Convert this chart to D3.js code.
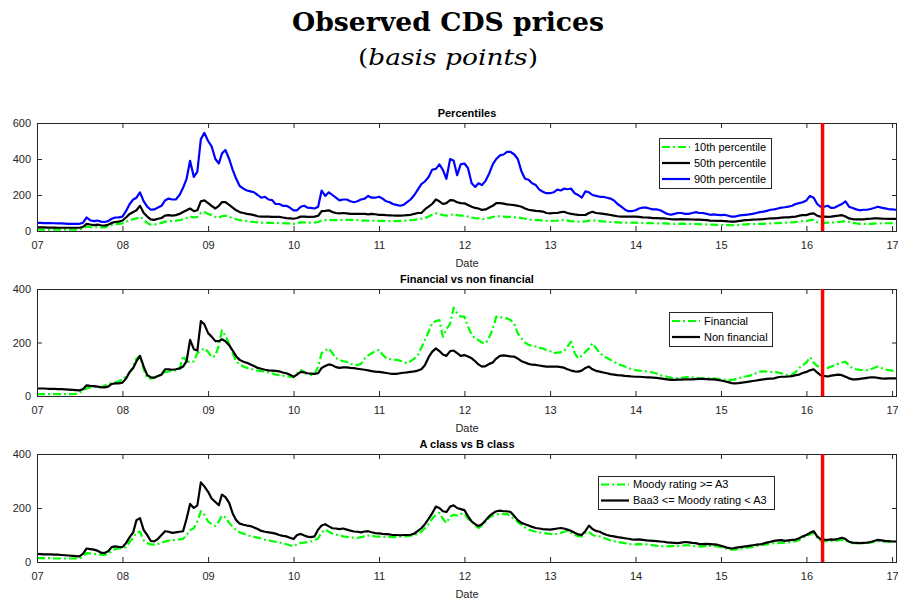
<!DOCTYPE html>
<html><head><meta charset="utf-8">
<script src="https://cdn.jsdelivr.net/npm/d3@7"></script>
<style>body{margin:0;background:#fff} svg{display:block;background:#fff}</style>
</head><body>
<svg id="chart" width="898" height="601"></svg>
<script>
// ---- Data (semi-monthly readings: 1st and 16th of each month, Jan 2007 .. Feb 2017) ----
const yearLabels = ["07","08","09","10","11","12","13","14","15","16","17"];
const yearValues = [2007,2008,2009,2010,2011,2012,2013,2014,2015,2016,2017];

const p90 = [
 45,45,44,44,44,43,42,42,41,40,40,40,40,45,75,60,55,58,52,50,55,68,75,76,
 80,110,150,175,185,215,165,135,118,120,130,140,170,180,175,175,200,240,290,390,300,330,510,545,
 500,470,400,375,430,450,400,340,290,250,235,225,220,215,200,185,190,175,172,150,150,140,140,130,
 115,115,135,140,130,128,125,135,225,195,215,200,185,170,175,175,165,160,165,175,180,195,185,185,
 190,180,165,160,150,145,140,145,160,175,200,230,260,275,300,340,345,370,340,290,400,390,310,370,
 375,350,265,245,265,255,280,320,370,400,420,425,440,440,425,400,330,290,285,265,255,230,218,210,
 210,215,230,225,235,232,235,210,200,185,220,215,200,195,190,190,185,180,170,150,135,120,110,110,
 115,125,130,130,125,120,120,115,105,95,90,95,100,100,95,95,100,105,100,100,95,90,92,90,
 88,90,85,80,80,85,88,90,92,95,100,105,108,112,118,120,125,130,132,135,140,150,155,160,
 170,195,185,150,135,135,140,128,130,140,150,165,135,128,120,115,118,118,122,128,135,130,126,122,120,118,118
];
const p50 = [
 20,20,20,19,19,19,18,18,18,18,18,18,18,22,40,36,33,35,32,30,35,45,50,52,
 58,75,95,105,115,140,100,80,65,62,68,72,85,88,85,88,95,105,115,125,110,115,165,170,
 155,140,125,140,160,160,145,130,115,105,100,95,92,88,82,80,80,80,78,78,78,75,72,70,
 68,72,80,80,78,78,80,85,110,112,115,105,100,98,100,98,95,95,95,95,95,92,95,93,
 90,90,88,87,86,85,85,86,88,90,95,100,100,120,135,150,175,165,150,155,172,170,160,155,
 154,145,135,128,125,117,120,130,140,155,155,152,148,146,144,140,135,125,118,115,112,110,108,100,
 98,100,100,105,107,100,95,92,90,89,89,100,107,100,98,95,92,89,85,82,80,80,80,80,
 80,78,76,75,74,72,72,70,70,68,66,65,65,66,65,65,64,63,63,62,60,58,57,56,
 57,55,53,52,52,55,58,60,61,63,64,65,66,68,70,70,72,74,76,76,78,80,85,88,
 88,95,98,85,80,80,78,80,83,85,88,80,70,66,65,65,65,67,68,70,70,69,68,67,67,67,67
];
const p10 = [
 8,8,8,8,8,8,8,8,8,8,8,8,9,12,25,22,20,22,20,20,25,33,38,40,
 42,50,60,65,70,80,62,45,35,35,40,45,52,55,55,57,60,65,72,80,75,78,100,105,
 95,88,78,75,82,85,78,72,65,60,57,55,52,50,48,46,46,45,45,45,44,43,42,42,
 40,42,48,48,46,46,47,50,58,60,62,60,60,60,62,62,62,60,60,58,58,57,58,57,
 56,56,55,55,55,55,56,57,58,60,62,65,68,72,80,90,98,95,88,85,90,92,88,85,
 85,80,75,72,70,66,68,72,78,82,82,80,78,78,77,75,72,68,65,62,60,60,58,57,
 56,57,58,60,62,58,55,53,52,52,53,58,60,57,55,53,52,50,49,48,47,47,46,46,
 46,45,45,44,44,43,43,42,42,41,40,40,40,41,40,40,40,39,38,37,36,35,35,34,
 34,33,33,32,32,33,35,37,38,38,39,40,40,41,42,43,44,45,46,47,48,50,52,55,
 55,60,62,50,45,45,46,46,48,50,52,55,50,45,42,40,40,40,40,41,42,43,43,43,43,42,42
];
const financial = [
 7,7,7,7,7,7,7,7,7,7,7,8,12,22,28,32,35,33,32,38,45,48,50,55,
 62,72,88,110,140,150,100,66,65,70,75,80,90,92,95,96,100,150,130,125,130,160,170,178,
 165,145,150,190,245,225,195,160,130,118,110,105,102,98,95,93,91,88,85,80,78,76,74,72,
 70,85,97,90,82,78,80,110,160,170,178,160,141,135,130,128,120,116,116,120,140,152,160,168,
 172,155,141,138,137,135,132,128,122,130,140,153,180,209,240,272,280,284,222,250,270,330,310,297,
 297,260,228,215,209,200,197,220,250,297,295,292,290,284,270,234,215,200,191,188,185,180,178,172,
 168,160,162,164,166,185,203,160,141,150,165,178,197,180,160,150,142,135,128,120,115,110,105,100,
 97,95,93,92,91,88,84,78,75,72,68,66,66,68,70,72,70,68,66,66,66,66,66,64,
 62,61,60,60,62,66,70,73,75,80,86,91,92,91,90,91,88,85,80,78,80,90,105,115,
 125,145,125,112,108,103,105,110,115,120,125,128,115,103,100,98,97,97,100,105,110,105,100,97,95,93,91
];
const nonFinancial = [
 28,28,28,27,27,27,26,26,25,24,23,22,21,25,40,38,37,35,33,32,35,45,47,47,
 50,65,90,105,130,150,110,78,70,68,75,80,100,100,98,100,103,110,130,210,175,170,280,268,
 235,222,205,205,212,205,190,170,148,135,128,124,118,112,105,102,98,96,95,94,92,88,85,80,
 72,80,90,88,85,84,83,85,105,112,118,115,108,105,107,107,105,104,102,100,98,96,93,91,
 90,88,86,84,83,83,85,87,88,90,92,95,100,115,145,165,178,168,155,150,168,170,160,150,
 153,148,141,130,118,110,112,120,125,140,150,152,150,148,147,140,130,125,120,117,116,114,112,110,
 110,110,110,108,106,100,95,92,91,95,105,110,100,94,91,88,85,82,80,78,77,75,74,73,
 72,72,71,70,70,69,68,66,64,62,60,60,61,61,62,62,62,63,64,64,63,62,62,60,
 58,55,52,48,47,48,50,52,54,56,58,60,62,64,65,66,70,72,72,73,74,78,80,86,
 90,96,100,88,78,75,73,76,78,80,78,72,66,62,62,64,66,68,70,70,68,66,65,66,66,66,66
];
const ratingA3 = [
 14,14,14,14,14,13,13,13,13,13,13,13,13,20,33,32,30,29,27,26,30,40,48,50,
 52,55,75,90,110,112,80,70,65,64,67,72,76,79,80,82,84,86,100,118,125,150,188,175,
 150,140,133,150,172,165,145,130,118,110,105,100,96,93,90,87,83,80,77,75,72,70,66,62,
 58,65,71,72,74,76,80,88,110,120,112,105,102,98,95,93,91,90,89,92,95,98,97,95,
 94,93,93,93,92,93,94,95,96,98,100,104,112,125,140,160,175,182,160,145,168,175,172,178,
 180,160,150,135,126,135,150,165,172,176,178,177,178,170,160,148,138,128,120,116,112,110,108,106,
 104,102,104,108,112,114,108,100,96,95,108,112,100,96,95,90,85,80,77,74,72,70,67,65,
 65,66,65,65,64,62,60,59,58,58,59,60,59,60,62,62,60,58,57,58,59,60,59,58,
 55,52,48,46,46,48,50,52,54,56,60,62,63,65,68,70,70,71,72,73,75,77,82,90,
 95,102,108,90,80,77,77,78,78,80,83,80,72,70,70,69,70,71,72,75,77,77,75,75,76,76,76
];
const ratingBaa3 = [
 30,29,28,28,28,27,27,26,25,24,23,22,21,30,50,48,46,42,35,33,40,55,58,56,
 55,70,92,110,155,162,118,100,78,76,86,100,114,112,108,110,112,114,160,215,200,210,295,280,
 260,235,222,210,250,240,219,180,155,142,138,135,133,128,122,115,112,110,108,105,100,97,95,90,
 85,100,104,98,94,92,95,120,135,140,132,125,124,122,124,120,116,113,112,110,113,114,110,107,
 106,104,103,102,100,100,99,100,100,101,105,115,125,140,160,180,205,200,188,185,205,210,200,196,
 192,170,150,140,133,140,155,170,180,188,190,188,188,185,170,155,145,140,135,130,126,124,122,121,
 120,122,124,126,124,120,115,108,102,100,115,135,122,115,112,105,100,97,95,92,90,88,86,84,
 83,84,82,80,79,78,77,76,75,73,72,71,70,72,74,73,71,70,66,66,67,66,65,64,
 60,56,52,50,52,54,56,58,60,62,64,65,68,72,75,78,80,81,78,80,82,83,88,95,
 100,108,114,95,85,83,82,84,83,86,90,85,75,72,71,70,71,72,74,78,82,80,78,77,76,76,76
];
const eventDate = "2016-03-10";   // red vertical marker
const panelTitles = ["Percentiles","Financial vs non financial","A class vs B class"];
const yTicks1 = [0,200,400,600];
const yTicks23 = [0,200,400];

// sampling dates (1st and 16th of each month)
const dates = [];
for (let y = 2007; y <= 2017; y++) for (let m = 0; m < 12; m++) {
  dates.push(new Date(y, m, 1)); dates.push(new Date(y, m, 16));
}
dates.length = p90.length;

// ---- Layout ----
const svg = d3.select("#chart");
const W = 898, H = 601;
const left = 37, right = 897;
const axisColor = "#262626";
const GREEN = "#00ff00", BLUE = "#0000ff", BLACK = "#000000";
const DASH = "8,3,2,3";

svg.append("rect").attr("width", W).attr("height", H).attr("fill", "#fff");

// main title
const t1 = svg.append("text").attr("x", 448).attr("y", 31).attr("text-anchor", "middle")
  .attr("font-family", "DejaVu Serif, serif").attr("font-weight", "bold").attr("font-size", 26)
  .attr("fill", "#000").text("Observed CDS prices");
t1.attr("textLength", 312).attr("lengthAdjust", "spacingAndGlyphs");
const t2 = svg.append("text").attr("x", 448).attr("y", 65).attr("text-anchor", "middle")
  .attr("font-family", "DejaVu Serif, serif").attr("font-size", 23).attr("fill", "#000");
t2.append("tspan").text("(");
t2.append("tspan").attr("font-style", "italic").text("basis points");
t2.append("tspan").text(")");
t2.attr("textLength", 180).attr("lengthAdjust", "spacingAndGlyphs");

const x = d3.scaleTime()
  .domain([new Date(2007, 0, 1), new Date(2017, 0, 22)])
  .range([left, right]);
const xTickDates = yearValues.map(y => new Date(y, 0, 1));

const panels = [
  { top: 123, bottom: 231, ymax: 600, yticks: yTicks1,
    series: [
      { name: "10th percentile", values: p10, color: GREEN, dash: DASH },
      { name: "50th percentile", values: p50, color: BLACK, dash: null },
      { name: "90th percentile", values: p90, color: BLUE, dash: null }],
    legend: { x: 659, y: 138, w: 112, h: 50 } },
  { top: 289, bottom: 396, ymax: 400, yticks: yTicks23,
    series: [
      { name: "Financial", values: financial, color: GREEN, dash: DASH },
      { name: "Non financial", values: nonFinancial, color: BLACK, dash: null }],
    legend: { x: 669, y: 312, w: 103, h: 34 } },
  { top: 454, bottom: 562, ymax: 400, yticks: yTicks23,
    series: [
      { name: "Moody rating >= A3", values: ratingA3, color: GREEN, dash: DASH },
      { name: "Baa3 <= Moody rating < A3", values: ratingBaa3, color: BLACK, dash: null }],
    legend: { x: 598, y: 476, w: 176, h: 33 } }
];

const FONT = "Liberation Sans, Arial, Helvetica, sans-serif";

panels.forEach((p, i) => {
  const y = d3.scaleLinear().domain([0, p.ymax]).range([p.bottom, p.top]);
  const g = svg.append("g");
  const clipId = "clip" + i;
  svg.append("clipPath").attr("id", clipId).append("rect")
    .attr("x", left).attr("y", p.top).attr("width", right - left).attr("height", p.bottom - p.top);

  // axes (ticks inside)
  const styleAxis = sel => {
    sel.select(".domain").remove();
    sel.selectAll(".tick line").attr("stroke", axisColor).attr("stroke-width", 1);
    sel.selectAll(".tick text").attr("fill", axisColor).attr("font-family", FONT).attr("font-size", 11);
  };
  g.append("g").attr("transform", `translate(0,${p.bottom})`)
    .call(d3.axisBottom(x).tickValues(xTickDates).tickFormat((d, k) => yearLabels[k]).tickSize(-5).tickPadding(10.5))
    .call(styleAxis);
  g.append("g").attr("transform", `translate(0,${p.top})`)
    .call(d3.axisTop(x).tickValues(xTickDates).tickFormat("").tickSize(-5))
    .call(styleAxis);
  g.append("g").attr("transform", `translate(${left},0)`)
    .call(d3.axisLeft(y).tickValues(p.yticks).tickFormat(d3.format("d")).tickSize(-5).tickPadding(6))
    .call(styleAxis);
  g.append("g").attr("transform", `translate(${right},0)`)
    .call(d3.axisRight(y).tickValues(p.yticks).tickFormat("").tickSize(-5))
    .call(styleAxis);

  // lines
  const line = d3.line().x((d, k) => x(dates[k])).y(d => y(d));
  const lg = g.append("g").attr("clip-path", `url(#${clipId})`);
  p.series.forEach(s => {
    lg.append("path").datum(s.values).attr("d", line)
      .attr("fill", "none").attr("stroke", s.color).attr("stroke-width", 2.2)
      .attr("stroke-linejoin", "round")
      .attr("stroke-dasharray", s.dash);
  });

  // box
  g.append("rect").attr("x", left + 0.5).attr("y", p.top + 0.5)
    .attr("width", right - left - 1).attr("height", p.bottom - p.top)
    .attr("fill", "none").attr("stroke", axisColor).attr("stroke-width", 1);

  // red event line
  const ex = x(new Date(eventDate));
  g.append("line").attr("x1", ex).attr("x2", ex).attr("y1", p.top).attr("y2", p.bottom)
    .attr("stroke", "#ff0000").attr("stroke-width", 3.5);

  // titles
  g.append("text").attr("x", (left + right) / 2).attr("y", p.top - 6).attr("text-anchor", "middle")
    .attr("font-family", FONT).attr("font-weight", "bold").attr("font-size", 11).attr("fill", "#000")
    .text(panelTitles[i]);
  g.append("text").attr("x", (left + right) / 2).attr("y", p.bottom + 36).attr("text-anchor", "middle")
    .attr("font-family", FONT).attr("font-size", 11).attr("fill", axisColor).text("Date");

  // legend
  const L = p.legend;
  const leg = g.append("g");
  leg.append("rect").attr("x", L.x + 0.5).attr("y", L.y + 0.5).attr("width", L.w).attr("height", L.h)
    .attr("fill", "#fff").attr("stroke", axisColor).attr("stroke-width", 1);
  const n = p.series.length;
  const off = (L.h - n * 16) / 2 + 8;
  p.series.forEach((s, k) => {
    const ry = L.y + off + k * 16;
    leg.append("line").attr("x1", L.x + 3).attr("x2", L.x + 31).attr("y1", ry).attr("y2", ry)
      .attr("stroke", s.color).attr("stroke-width", 2.2).attr("stroke-dasharray", s.dash);
    leg.append("text").attr("x", L.x + 35).attr("y", ry).attr("dy", "0.35em")
      .attr("font-family", FONT).attr("font-size", 11).attr("fill", "#000").text(s.name);
  });
});
</script>
</body></html>
